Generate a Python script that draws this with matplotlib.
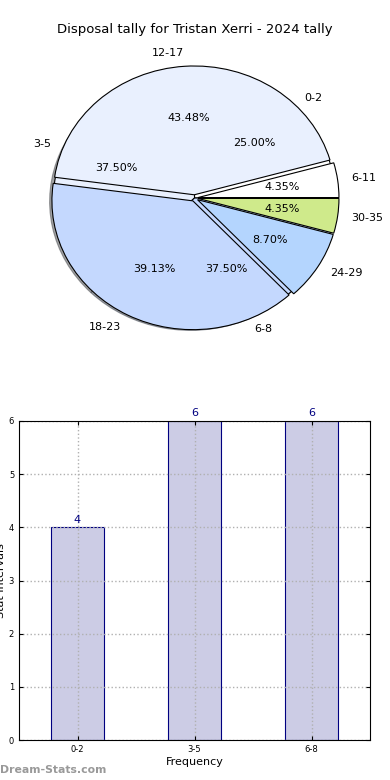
import matplotlib

matplotlib.use("Agg")

import matplotlib.pyplot as plt

TITLE = "Disposal tally for Tristan Xerri - 2024 tally"

# inner pie (same data as the bar chart)
bar_labels = ["0-2", "3-5", "6-8"]
bar_counts = [4, 6, 6]

# outer pie, drawn on top
tally_labels = ["6-11", "12-17", "18-23", "24-29", "30-35"]
tally_counts = [1, 10, 9, 2, 1]

palette = ["#ffffff", "#e9f0fe", "#c4d8fe", "#b4d5fe", "#cfea8b"]

fig = plt.figure(figsize=(3.9, 7.8), dpi=100)

ax_pie = fig.add_axes([19 / 390, 1 - 359 / 780, 351 / 390, 322 / 780])
ax_pie.pie(
    bar_counts,
    labels=bar_labels,
    colors=palette[: len(bar_counts)],
    autopct="%1.2f%%",
    shadow=True,
    wedgeprops={"edgecolor": "black", "linewidth": 0.8},
    textprops={"fontsize": 8},
)
ax_pie.pie(
    tally_counts,
    labels=tally_labels,
    colors=palette[: len(tally_counts)],
    autopct="%1.2f%%",
    explode=[0.025] * len(tally_counts),
    wedgeprops={"edgecolor": "black", "linewidth": 0.8},
    textprops={"fontsize": 8},
)
ax_pie.set_aspect("auto")
ax_pie.set_xlim(-1.245, 1.245)
ax_pie.set_ylim(-1.25, 1.25)
ax_pie.axis("off")
fig.text(0.5, 1 - 30 / 780, TITLE, ha="center", va="center", fontsize=9.5)

ax_bar = fig.add_axes([19 / 390, 40 / 780, 351 / 390, 319 / 780])
xs = range(len(bar_labels))
bars = ax_bar.bar(xs, bar_counts, width=0.45, color="#cccce5",
                  edgecolor="#000080", linewidth=0.8, zorder=2)
for bar, value in zip(bars, bar_counts):
    ax_bar.text(bar.get_x() + bar.get_width() / 2, value + 0.05, str(value),
                ha="center", va="bottom", fontsize=8, color="#000080")
ax_bar.set_xlim(-0.5, 2.5)
ax_bar.set_ylim(0, 6)
ax_bar.set_xticks(list(xs))
ax_bar.set_xticklabels(bar_labels)
ax_bar.tick_params(labelsize=6, direction="in", top=True, right=True, length=3)
ax_bar.grid(True, linestyle=":", color="#b0b0b0", linewidth=1, zorder=3)
ax_bar.set_axisbelow(False)
for spine in ax_bar.spines.values():
    spine.set_zorder(5)
ax_bar.set_xlabel("Frequency", fontsize=8, labelpad=2)
ax_bar.set_ylabel("Stat Intervals", fontsize=8, labelpad=2)

fig.text(0.0, 1 - 770 / 780, "Dream-Stats.com", fontsize=7.8, color="#999999",
         fontweight="bold", ha="left", va="center")

fig.savefig("out.png", dpi=100)
